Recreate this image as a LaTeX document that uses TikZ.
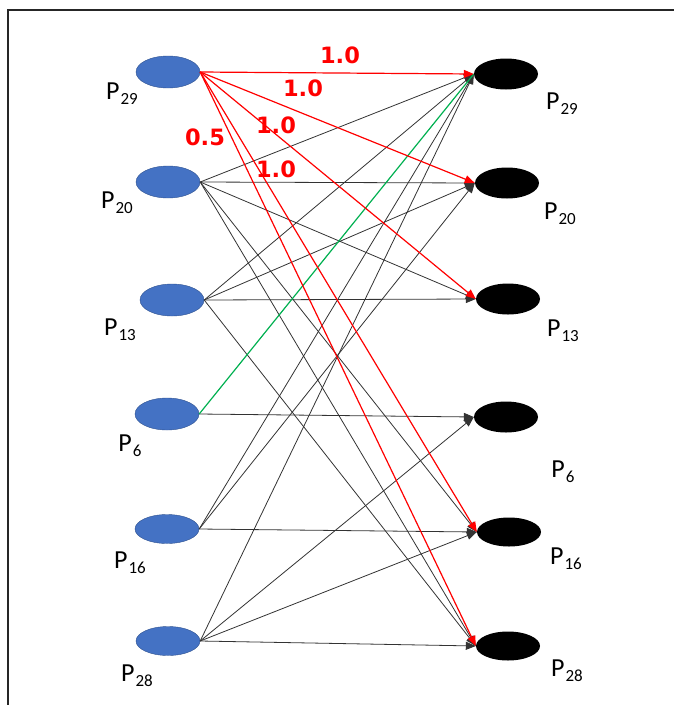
\documentclass[tikz,border=0pt]{standalone}
\usepackage{fontspec}
\setmainfont{Carlito}
\newfontfamily\wtfont{DejaVu Sans}
\usepackage{tikz}
\usetikzlibrary{arrows.meta, shapes.geometric}
\usepackage{xcolor}
\definecolor{pblue}{HTML}{4472C4}
\definecolor{pbord}{HTML}{2F528F}
\definecolor{pgreen}{HTML}{00B050}
\newcommand{\plab}[1]{P\kern1pt\raisebox{-5pt}{\fontsize{17}{17}\selectfont #1}}

\begin{document}
\begin{tikzpicture}[x=1pt, y=-1pt, >={Triangle[length=10pt,width=8pt]},
    lnode/.style={ellipse, draw=pbord, fill=pblue, minimum width=64pt, minimum height=32pt, inner sep=0pt},
    rnode/.style={ellipse, fill=black, minimum width=64pt, minimum height=31pt, inner sep=0pt},
    plabel/.style={font=\fontsize{26}{26}\selectfont},
    wlabel/.style={red, font=\wtfont\bfseries\fontsize{22.5}{22.5}\selectfont},
    edge/.style={->, line width=0.8pt, black!80},
    redge/.style={->, line width=1.2pt, red},
    gedge/.style={line width=1.2pt, pgreen}]
  \useasboundingbox (0,0) rectangle (674,705);
  %--- Frame
  \draw[line width=1.6pt, black!85] (8,705) -- (8,10) -- (674,10);
  %--- Left nodes
  \node[lnode] (L29) at (168,72)  {};
  \node[lnode] (L20) at (168,182) {};
  \node[lnode] (L13) at (172,300) {};
  \node[lnode] (L6)  at (167,414) {};
  \node[lnode, minimum height=29pt] (L16) at (167,529) {};
  \node[lnode, minimum height=29pt] (L28) at (168,641) {};
  %--- Right nodes
  \node[rnode] (R29) at (506,74)  {};
  \node[rnode] (R20) at (507,183) {};
  \node[rnode] (R13) at (508,299) {};
  \node[rnode] (R6)  at (506,417) {};
  \node[rnode, minimum height=29pt] (R16) at (509,532) {};
  \node[rnode, minimum height=29pt] (R28) at (508,646) {};
  %--- Labels
  \node[plabel] (tL29) at (122,94)  {\plab{29}};
  \node[plabel] (tL20) at (117,203) {\plab{20}};
  \node[plabel] (tL13) at (120,330) {\plab{13}};
  \node[plabel] (tL6)  at (130,446) {\plab{6}};
  \node[plabel] (tL16) at (130,563) {\plab{16}};
  \node[plabel] (tL28) at (137,676) {\plab{28}};
  \node[plabel] (tR29) at (562,104) {\plab{29}};
  \node[plabel] (tR20) at (560,214) {\plab{20}};
  \node[plabel] (tR13) at (563,331) {\plab{13}};
  \node[plabel] (tR6)  at (563,472) {\plab{6}};
  \node[plabel] (tR16) at (566,559) {\plab{16}};
  \node[plabel] (tR28) at (567,671) {\plab{28}};
  %--- Gray connectors
  \foreach \a/\b in {20/29, 20/20, 20/13, 20/16, 20/28,
                     13/29, 13/20, 13/13, 13/28,
                     6/6, 16/29, 16/20, 16/16,
                     28/29, 28/6, 28/16, 28/28}
    \draw[edge] (L\a.east) -- (R\b.west);
  %--- Green connector
  \draw[gedge] (L6.east) -- (R29.west);
  %--- Red connectors (from P29)
  \foreach \b in {29, 20, 13, 16, 28}
    \draw[redge] (L29.east) -- (R\b.west);
  %--- Weights
  \node[wlabel] (w1) at (340,55)  {1.0};
  \node[wlabel] (w2) at (303,88)  {1.0};
  \node[wlabel] (w3) at (276,125) {1.0};
  \node[wlabel] (w4) at (205,137) {0.5};
  \node[wlabel] (w5) at (276,169) {1.0};
\end{tikzpicture}
\end{document}
